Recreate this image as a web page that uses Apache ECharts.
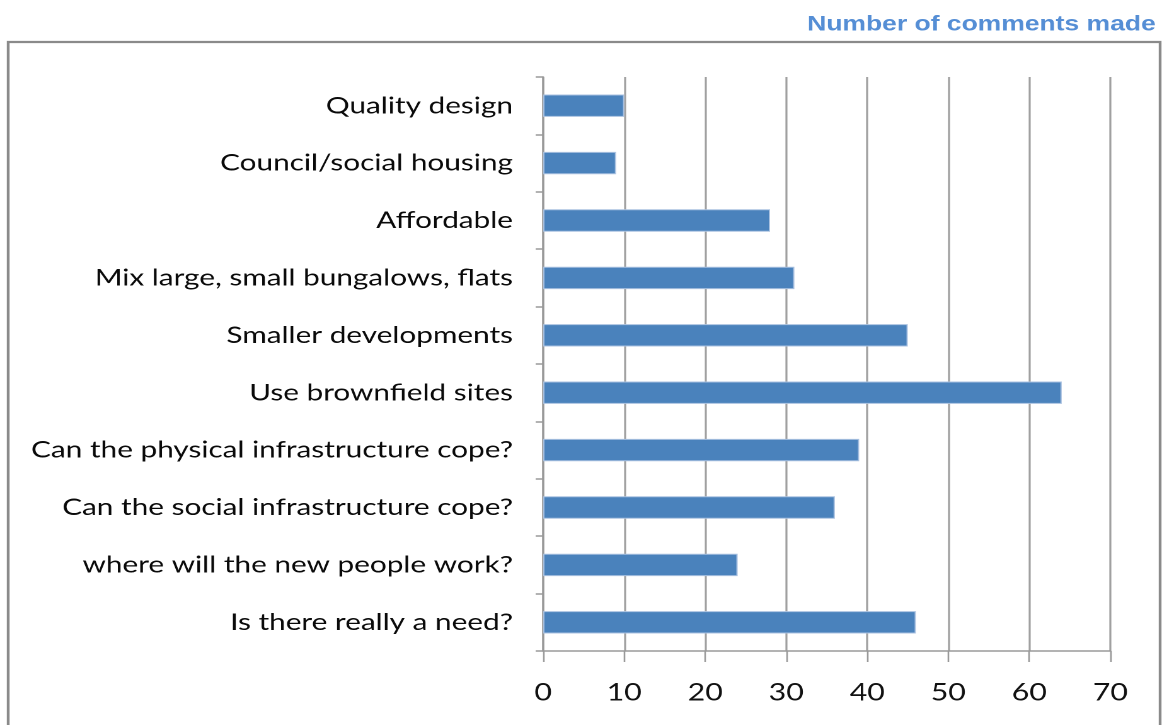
<!DOCTYPE html>
<html>
<head>
<meta charset="utf-8">
<script src="https://cdn.jsdelivr.net/npm/echarts@6/dist/echarts.min.js"></script>
<style>
  html, body { margin: 0; padding: 0; background: #fff; overflow: hidden; }
  #wrap { width: 1162px; height: 725px; overflow: hidden; }
  /* the chart is laid out narrower and widened horizontally,
     giving the broad letterforms of the original figure */
  #chart { width: 922px; height: 725px; transform: scaleX(1.2603); transform-origin: 0 0; }
</style>
</head>
<body>
<div id="wrap"><div id="chart"></div></div>
<script>
// Topics raised, listed top to bottom
const categories = [
  'Quality design',
  'Council/social housing',
  'Affordable',
  'Mix large, small bungalows, flats',
  'Smaller developments',
  'Use brownfield sites',
  'Can the physical infrastructure cope?',
  'Can the social infrastructure cope?',
  'where will the new people work?',
  'Is there really a need?'
];
// Number of comments for each topic
const comments = [10, 9, 28, 31, 45, 64, 39, 36, 24, 46];
const xTicks = [0, 10, 20, 30, 40, 50, 60, 70];

const chart = echarts.init(document.getElementById('chart'), null, {
  renderer: 'canvas',
  devicePixelRatio: 2
});
const labelFont = 'Lato, "Open Sans", sans-serif';

chart.setOption({
  animation: false,
  title: {
    text: 'Number of comments made',
    right: 0,
    top: 9,
    textStyle: {
      color: '#558ED5',
      fontFamily: 'Liberation Sans, Arial, sans-serif',
      fontWeight: 'bold',
      fontSize: 21
    }
  },
  graphic: [{
    type: 'rect',
    shape: { x: 6.5, y: 42, width: 914, height: 700 },
    style: { fill: 'none', stroke: '#8a8a8a', lineWidth: 2.2 },
    silent: true,
    z: -1
  }],
  grid: { left: 431, right: 41, top: 77, bottom: 74, containLabel: false },
  xAxis: {
    type: 'value',
    min: xTicks[0],
    max: xTicks[xTicks.length - 1],
    interval: 10,
    axisLine: { show: true, lineStyle: { color: '#999', width: 1.5 } },
    axisTick: { show: true, length: 11, lineStyle: { color: '#999', width: 1.3 } },
    splitLine: { show: true, lineStyle: { color: '#a0a0a0', width: 1.6 } },
    axisLabel: {
      margin: 30,
      color: '#111',
      fontFamily: labelFont,
      fontSize: 24
    }
  },
  yAxis: {
    type: 'category',
    data: categories,
    inverse: true,
    axisLine: { show: true, lineStyle: { color: '#999', width: 1.6 } },
    axisTick: { show: true, length: 6, lineStyle: { color: '#999', width: 1.5 } },
    splitLine: { show: false },
    axisLabel: {
      margin: 24,
      color: '#0a0a0a',
      fontFamily: labelFont,
      fontSize: 23.6
    }
  },
  series: [{
    type: 'bar',
    data: comments,
    barCategoryGap: '61%',
    itemStyle: {
      color: '#4A82BC',
      borderColor: '#a9c1e0',
      borderWidth: 1
    }
  }]
});
</script>
</body>
</html>
